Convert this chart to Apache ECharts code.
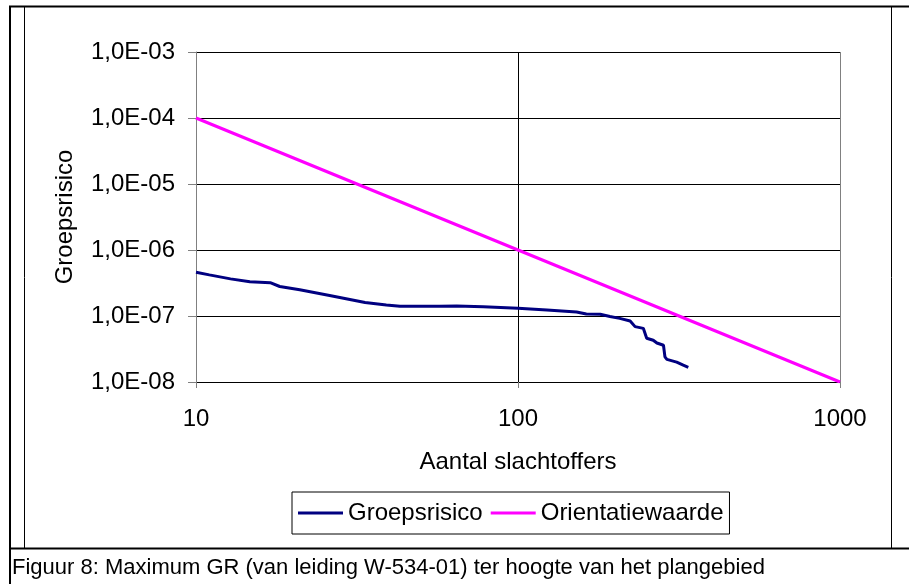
<!DOCTYPE html>
<html>
<head>
<meta charset="utf-8">
<script src="https://cdn.jsdelivr.net/npm/echarts@6/dist/echarts.min.js"></script>
<style>
html,body{margin:0;padding:0;background:#fff;}
#c{width:909px;height:584px;}
</style>
</head>
<body>
<div id="c"></div>
<script>
// Groepsrisico (FN curve)
const groepN = [10, 11, 12.8, 14.7, 17, 18.2, 21, 26, 33.5, 39, 43, 57, 64.5, 78, 100, 123, 152, 163, 180, 193, 207, 223, 231, 245, 251, 263, 270, 283, 286, 290, 311, 326, 338];
const groepRisk = [4.6e-7, 4.2e-7, 3.65e-7, 3.3e-7, 3.2e-7, 2.8e-7, 2.5e-7, 2.05e-7, 1.6e-7, 1.47e-7, 1.4e-7, 1.4e-7, 1.42e-7, 1.38e-7, 1.31e-7, 1.23e-7, 1.15e-7, 1.07e-7, 1.06e-7, 9.8e-8, 9.2e-8, 8.4e-8, 6.9e-8, 6.5e-8, 4.6e-8, 4.3e-8, 3.9e-8, 3.6e-8, 2.4e-8, 2.2e-8, 2.0e-8, 1.8e-8, 1.67e-8];
// Orientatiewaarde
const orientN = [10, 100, 1000];
const orientRisk = [1e-4, 1e-6, 1e-8];
// Axis settings
const xTicks = ['10', '100', '1000'];
const yMin = 1e-8, yMax = 1e-3;
const xName = 'Aantal slachtoffers';
const yName = 'Groepsrisico';
const seriesNames = ['Groepsrisico', 'Orientatiewaarde'];
const caption = 'Figuur 8: Maximum GR (van leiding W-534-01) ter hoogte van het plangebied';

const FONT = '"Liberation Sans", Arial, sans-serif';
const FS = 24;

function fmtY(v) {
  const e = Math.round(Math.log10(v));
  const s = Math.abs(e) < 10 ? '0' + Math.abs(e) : '' + Math.abs(e);
  return '1,0E' + (e < 0 ? '-' : '+') + s;
}

const chart = echarts.init(document.getElementById('c'), null, {renderer: 'canvas'});
chart.setOption({
  animation: false,
  backgroundColor: '#fff',
  textStyle: {fontFamily: FONT},
  grid: {left: 196, right: 69, top: 52, bottom: 202, containLabel: false, show: false},
  xAxis: {
    type: 'log', logBase: 10, min: 10, max: 1000,
    name: xName, nameLocation: 'middle', nameGap: 68,
    nameTextStyle: {fontSize: FS, color: '#000', fontFamily: FONT},
    axisLine: {show: true, lineStyle: {color: '#000', width: 1}},
    axisTick: {show: true, length: 6, lineStyle: {color: '#808080'}},
    minorTick: {show: false},
    axisLabel: {fontSize: FS, color: '#000', margin: 25, fontFamily: FONT,
      formatter: function (v) { const i = Math.round(Math.log10(v)) - 1; return xTicks[i] !== undefined ? xTicks[i] : String(v); }},
    splitLine: {show: true, lineStyle: {color: ['#808080', '#000', '#808080'], width: 1}}
  },
  yAxis: {
    type: 'log', logBase: 10, min: yMin, max: yMax,
    name: yName, nameLocation: 'middle', nameGap: 119, nameRotate: 90,
    nameTextStyle: {fontSize: FS, color: '#000', fontFamily: FONT},
    axisLine: {show: true, lineStyle: {color: '#808080', width: 1}},
    axisTick: {show: true, length: 8, lineStyle: {color: '#808080'}},
    minorTick: {show: false},
    axisLabel: {fontSize: FS, color: '#000', margin: 21, fontFamily: FONT, formatter: fmtY},
    splitLine: {show: true, lineStyle: {color: ['#000', '#000', '#000', '#000', '#000', '#808080'], width: 1}}
  },
  legend: {
    show: true, left: 292, top: 492,
    orient: 'horizontal',
    icon: 'rect', itemWidth: 45, itemHeight: 3, itemGap: 8,
    padding: [9, 6, 9, 6],
    borderColor: '#000', borderWidth: 1, backgroundColor: '#fff',
    textStyle: {fontSize: FS, color: '#000', fontFamily: FONT},
    data: seriesNames
  },
  series: [
    {
      name: seriesNames[0], type: 'line', symbol: 'none', smooth: false,
      lineStyle: {color: '#000080', width: 3}, itemStyle: {color: '#000080'},
      data: groepN.map((n, i) => [n, groepRisk[i]]), z: 3
    },
    {
      name: seriesNames[1], type: 'line', symbol: 'none', smooth: false,
      lineStyle: {color: '#FF00FF', width: 3}, itemStyle: {color: '#FF00FF'},
      data: orientN.map((n, i) => [n, orientRisk[i]]), z: 2
    }
  ],
  graphic: [
    // outer frame
    {type: 'line', shape: {x1: 9, y1: 6.5, x2: 909, y2: 6.5}, style: {stroke: '#000', lineWidth: 2}, silent: true},
    {type: 'line', shape: {x1: 10, y1: 6, x2: 10, y2: 584}, style: {stroke: '#000', lineWidth: 2}, silent: true},
    {type: 'line', shape: {x1: 9, y1: 548.5, x2: 909, y2: 548.5}, style: {stroke: '#000', lineWidth: 2}, silent: true},
    // chart object border
    {type: 'line', shape: {x1: 24.5, y1: 7, x2: 24.5, y2: 548}, style: {stroke: '#000', lineWidth: 1}, silent: true},
    {type: 'line', shape: {x1: 891.5, y1: 7, x2: 891.5, y2: 548}, style: {stroke: '#000', lineWidth: 1}, silent: true},
    // caption
    {type: 'text', left: 12, top: 557, style: {text: caption, fontSize: 22, fontFamily: FONT, fill: '#000'}, silent: true}
  ]
});
</script>
</body>
</html>
